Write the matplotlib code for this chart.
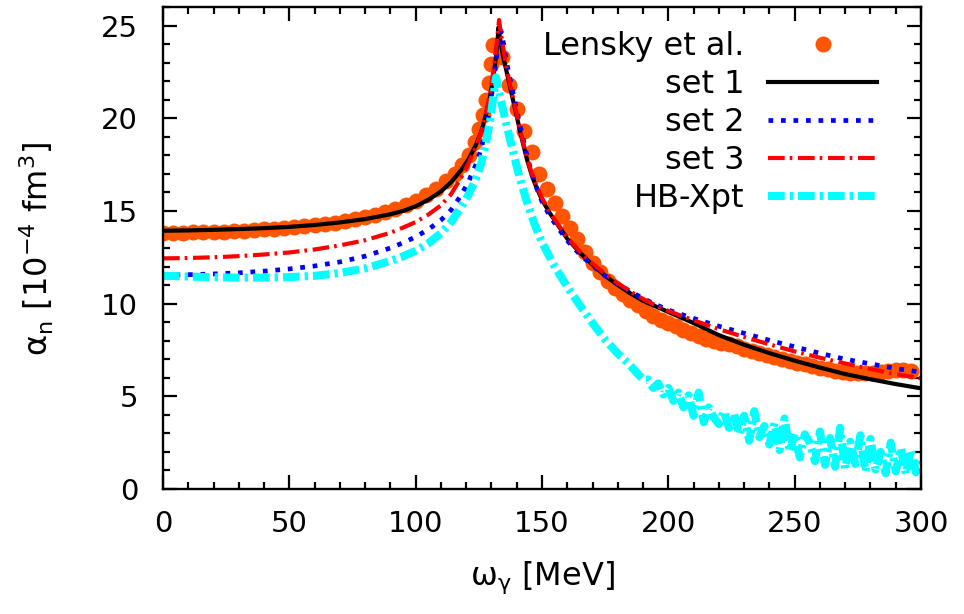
import matplotlib
matplotlib.use("Agg")
import matplotlib.pyplot as plt
from matplotlib.ticker import MultipleLocator

plt.rcParams['font.family'] = ['DejaVu Sans']
plt.rcParams['mathtext.fontset'] = 'dejavusans'
plt.rcParams['lines.scale_dashes'] = False

# ---------------- data ----------------
lensky_x = [0, 4, 8, 12, 16, 20, 24, 28, 32, 36, 40, 44, 48, 52, 56, 60, 64, 68, 72, 76, 80, 84, 88, 92,
            96, 100, 104, 108, 112, 115.5, 118.5, 121, 123.3, 125.2, 126.8, 128, 129, 129.8, 130.8, 134.2,
            137, 140, 143, 146, 149, 152, 155, 158, 161, 164, 167, 170, 173, 176, 179, 182, 185, 188, 191,
            194, 197, 200, 203, 206, 209, 212, 215, 218, 221, 224, 227, 230, 233, 236, 239, 242, 245, 248,
            251, 254, 257, 260, 263, 266, 269, 272, 275, 278, 281, 284, 287, 290, 293, 296]
lensky_y = [13.82, 13.82, 13.83, 13.84, 13.85, 13.87, 13.89, 13.91, 13.94, 13.97, 14.0, 14.04, 14.08, 14.12,
            14.17, 14.23, 14.3, 14.37, 14.45, 14.55, 14.65, 14.78, 14.93, 15.1,
            15.3, 15.55, 15.85, 16.2, 16.6, 17.0, 17.5, 18.0, 18.7, 19.4, 20.2, 21.0, 21.9, 22.9, 23.95, 23.3,
            21.8, 20.5, 19.3, 18.2, 17.0, 16.2, 15.45, 14.75, 14.1, 13.5, 12.8, 12.2, 11.7, 11.2, 10.85, 10.5,
            10.2, 9.9, 9.6, 9.35, 9.1, 8.95, 8.8, 8.6, 8.4, 8.25, 8.1, 8.0, 7.9, 7.8, 7.7, 7.55, 7.45, 7.35,
            7.25, 7.1, 7.0, 6.9, 6.8, 6.72, 6.62, 6.52, 6.45, 6.38, 6.3, 6.28, 6.25, 6.25, 6.25, 6.3, 6.35,
            6.4, 6.42, 6.35]

set1_x = [0, 10, 20, 30, 40, 50, 60, 70, 80, 90, 95, 100, 105, 110, 114, 118, 121, 124, 126, 128, 129.5,
          130.5, 131.5, 132.3, 132.8, 133.5, 134.5, 136, 138, 140, 142, 144, 146, 148, 150, 153, 156, 160,
          165, 170, 175, 180, 185, 190, 195, 200, 210, 220, 230, 240, 250, 260, 270, 280, 290, 300]
set1_y = [13.93, 13.95, 13.98, 14.02, 14.07, 14.14, 14.24, 14.38, 14.56, 14.82, 15.0, 15.25, 15.6, 16.05,
          16.55, 17.2, 17.8, 18.6, 19.3, 20.3, 21.2, 22.0, 23.0, 24.0, 24.9, 24.2, 23.4, 22.5, 21.3, 20.1,
          18.9, 17.8, 16.9, 16.2, 15.6, 14.9, 14.3, 13.5, 12.75, 12.1, 11.5, 11.0, 10.55, 10.15, 9.85, 9.55,
          8.95, 8.3, 7.78, 7.33, 6.92, 6.55, 6.2, 5.92, 5.66, 5.43]

set2_x = [0, 10, 20, 30, 40, 50, 60, 70, 80, 90, 95, 100, 105, 110, 114, 118, 121, 124, 126, 128, 129.5,
          131, 132.5, 133.8, 134.8, 136, 138, 140, 142, 144, 146, 148, 150, 153, 156, 160, 165, 170, 175,
          180, 185, 190, 195, 200, 210, 220, 230, 240, 250, 260, 270, 280, 290, 300]
set2_y = [11.54, 11.56, 11.6, 11.66, 11.75, 11.87, 12.03, 12.25, 12.56, 13.0, 13.28, 13.6, 14.0, 14.5,
          15.05, 15.85, 16.6, 17.55, 18.4, 19.6, 20.7, 22.2, 23.8, 24.7, 24.0, 23.0, 21.7, 20.4, 19.2, 18.0,
          17.0, 16.2, 15.5, 14.75, 14.15, 13.4, 12.65, 12.05, 11.5, 11.05, 10.65, 10.28, 9.95, 9.65, 9.2,
          8.78, 8.4, 8.02, 7.67, 7.32, 7.0, 6.75, 6.5, 6.3]

set3_x = [0, 10, 20, 30, 40, 50, 60, 70, 80, 90, 95, 100, 105, 110, 114, 118, 121, 124, 126, 128, 129.5,
          131, 132.2, 133, 133.7, 135, 136, 138, 140, 142, 144, 146, 148, 150, 153, 156, 160, 165, 170, 175,
          180, 185, 190, 195, 200, 210, 220, 230, 240, 250, 260, 270, 280, 290, 300]
set3_y = [12.44, 12.46, 12.5, 12.56, 12.65, 12.76, 12.92, 13.14, 13.42, 13.82, 14.1, 14.4, 14.8, 15.3,
          15.9, 16.8, 17.6, 18.5, 19.3, 20.4, 21.4, 22.8, 24.2, 25.3, 24.6, 23.5, 22.7, 21.4, 20.2, 19.0,
          17.9, 17.0, 16.3, 15.7, 14.95, 14.35, 13.55, 12.8, 12.15, 11.6, 11.1, 10.65, 10.25, 9.9, 9.6, 9.1,
          8.62, 8.2, 7.8, 7.42, 7.08, 6.77, 6.47, 6.2, 5.97]

hb_x = [0, 10, 20, 30, 40, 50, 60, 70, 80, 90, 95, 100, 105, 110, 114, 118, 121, 124, 126, 128, 129.5,
        130.8, 131.8, 133, 134.5, 136, 138, 140, 142, 144, 147, 150, 155, 160, 165, 170, 175, 180, 184,
        186, 188, 190, 192, 194, 196, 198, 200, 202, 204, 206, 208, 210, 212, 214, 216, 218, 220, 222, 224,
        226, 228, 230, 232, 234, 236, 238, 240, 242, 244, 246, 248, 250, 252, 254, 256, 258, 260, 262, 264,
        266, 268, 270, 272, 274, 276, 278, 280, 282, 284, 286, 288, 290, 292, 294, 296, 298, 300]
hb_y = [11.5, 11.46, 11.42, 11.4, 11.4, 11.43, 11.5, 11.65, 11.9, 12.3, 12.55, 12.85, 13.25, 13.8, 14.4,
        15.2, 15.9, 16.8, 17.6, 18.8, 19.9, 21.2, 22.2, 21.4, 20.5, 19.6, 18.5, 17.4, 16.4, 15.5, 14.3, 13.3,
        12.0, 10.9, 9.9, 8.95, 8.05, 7.3, 6.8,
        6.5, 6.2, 5.9, 5.9, 5.45, 5.7, 5.1, 5.45, 4.75, 5.2, 4.4, 5.05, 3.95, 5.2, 3.6, 4.4, 3.85, 3.5, 4.2,
        3.3, 4.05, 2.95, 3.95, 2.6, 4.2, 2.8, 3.4, 2.4, 3.55, 2.1, 3.8, 2.0, 3.0, 1.7, 2.95, 2.5, 1.5, 3.1,
        1.3, 2.75, 1.2, 3.3, 1.1, 2.55, 1.35, 2.9, 0.95, 2.7, 1.05, 2.0, 0.85, 2.5, 0.95, 2.2, 0.8, 2.1,
        0.9, 1.7]

labels = ["Lensky et al.", "set 1", "set 2", "set 3", "HB-Xpt"]
x_ticks = [0, 50, 100, 150, 200, 250, 300]
y_ticks = [0, 5, 10, 15, 20, 25]

# ---------------- figure ----------------
W, H = 964, 614
fig = plt.figure(figsize=(W / 100, H / 100), dpi=100)
L, R, T, B = 163, 921, 7, 489
ax = fig.add_axes([L / W, 1 - B / H, (R - L) / W, (B - T) / H])

ax.plot(lensky_x, lensky_y, linestyle='none', marker='o', markersize=11.5,
        markerfacecolor='#ff5500', markeredgewidth=0, color='#ff5500', label=labels[0])
ax.plot(set1_x, set1_y, color='black', lw=3.0, label=labels[1])
ax.plot(set2_x, set2_y, color='#0000ff', lw=3.4, dashes=(3.4, 5.6), label=labels[2])
ax.plot(set3_x, set3_y, color='#ff0000', lw=3.0, dashes=(12, 3.6, 1.9, 4.1), label=labels[3])
ax.plot(hb_x, hb_y, color='#00ffff', lw=5.8, dashes=(12, 3.6, 2.4, 3.6), label=labels[4])

ax.set_xlim(0, 300)
ax.set_ylim(0, 26)
ax.set_xticks(x_ticks)
ax.set_yticks(y_ticks)
ax.xaxis.set_minor_locator(MultipleLocator(10))
ax.yaxis.set_minor_locator(MultipleLocator(1))
ax.tick_params(which='both', direction='in', top=True, right=True, width=1.6, labelsize=21)
ax.tick_params(which='major', length=10)
ax.tick_params(which='minor', length=5)
ax.tick_params(axis='y', pad=18)
ax.tick_params(axis='x', pad=15)
for s in ax.spines.values():
    s.set_linewidth(1.7)

fig.text(542 / W, 1 - 578 / H, r'$\mathregular{\omega_{\gamma}}$ [MeV]', fontsize=23,
         ha='center', va='center')
fig.text(37 / W, 1 - 249 / H,
         r'$\mathregular{\alpha_{n}}$ [10$^{\mathregular{-4}}$ fm$^{\mathregular{3}}$]',
         fontsize=23, ha='center', va='center', rotation=90)

leg = ax.legend(loc='upper right', bbox_to_anchor=((877 - L) / (R - L), (B - 31) / (B - T)),
                frameon=False, markerfirst=False, fontsize=23, handlelength=3.4,
                handletextpad=0.75, labelspacing=0.22, borderpad=0, borderaxespad=0, numpoints=1)

fig.savefig('out.png', dpi=100)
